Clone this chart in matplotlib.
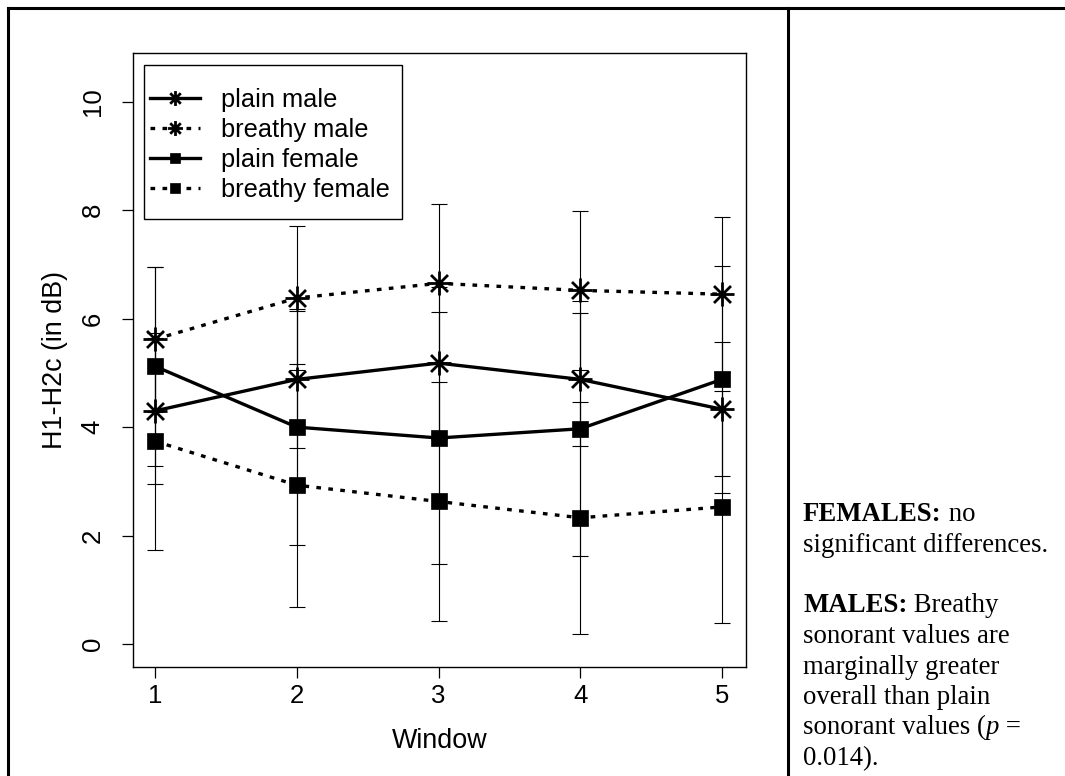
import matplotlib
matplotlib.use("Agg")
import matplotlib.pyplot as plt
from matplotlib.path import Path
from matplotlib.lines import Line2D
from matplotlib.patches import Rectangle

# window-by-window means and error-bar half widths
windows = [1, 2, 3, 4, 5]
plain_male = [4.30, 4.88, 5.18, 4.88, 4.33]
plain_male_err = [1.35, 1.26, 1.40, 1.23, 1.23]
breathy_male = [5.62, 6.38, 6.65, 6.52, 6.45]
breathy_male_err = [1.34, 1.32, 1.46, 1.47, 1.43]
plain_female = [5.12, 4.00, 3.80, 3.97, 4.88]
plain_female_err = [1.84, 2.18, 2.32, 2.35, 2.09]
breathy_female = [3.74, 2.93, 2.63, 2.33, 2.53]
breathy_female_err = [2.00, 2.24, 2.20, 2.14, 2.14]

y_ticks = [0, 2, 4, 6, 8, 10]

# (bold part, plain part) per line; |...| marks italic
note_lines = [
    ("FEMALES:", " no"),
    ("", "significant differences."),
    ("", ""),
    ("MALES:", " Breathy"),
    ("", "sonorant values are"),
    ("", "marginally greater"),
    ("", "overall than plain"),
    ("", "sonorant values (|p| ="),
    ("", "0.014)."),
]

plt.rcParams["font.family"] = ["Liberation Sans", "DejaVu Sans"]

W, H = 1065, 776
fig = plt.figure(figsize=(W / 100, H / 100), dpi=100)
ax = fig.add_axes([132.5 / W, 1 - 667 / H, (746 - 132.5) / W, (667 - 52.7) / H])

# R style pch=8 asterisk
asterisk = Path(
    [(-1, 0), (1, 0), (0, -1), (0, 1),
     (-0.7071, -0.7071), (0.7071, 0.7071), (-0.7071, 0.7071), (0.7071, -0.7071)],
    [Path.MOVETO, Path.LINETO] * 4,
)
dotted = (0, (1.4, 2.2))

series = [
    ("plain male", plain_male, plain_male_err, "-", asterisk),
    ("breathy male", breathy_male, breathy_male_err, dotted, asterisk),
    ("plain female", plain_female, plain_female_err, "-", "s"),
    ("breathy female", breathy_female, breathy_female_err, dotted, "s"),
]

handles = []
for label, vals, err, ls, mk in series:
    ax.errorbar(windows, vals, yerr=err, fmt="none", ecolor="black",
                elinewidth=0.8, capsize=6.1, capthick=0.8, zorder=2)
    if mk == "s":
        msize, mew = 12, 0.5
    else:
        msize, mew = 17.3, 2.0
    h, = ax.plot(windows, vals, linestyle=ls, color="black", lw=2.4,
                 marker=mk, markersize=msize, markeredgewidth=mew,
                 markerfacecolor="black", markeredgecolor="black",
                 dash_capstyle="butt", label=label, zorder=3)
    handles.append(h)

ax.set_xlim(0.84, 5.17)
ax.set_ylim(-0.42, 10.9)
ax.set_xticks(windows)
ax.set_yticks(y_ticks)
for s in ax.spines.values():
    s.set_linewidth(1.0)
ax.tick_params(axis="both", direction="out", length=7.9, width=0.9, labelsize=18.5)
ax.tick_params(axis="x", pad=4)
ax.tick_params(axis="y", labelrotation=90, pad=12)
for lbl in ax.get_yticklabels():
    lbl.set_va("center")

ax.set_xlabel("Window", fontsize=19.4)
ax.xaxis.set_label_coords(0.5, (667 - 741) / 614.3)
ax.xaxis.label.set_va("center")
ax.set_ylabel("H1-H2c (in dB)", fontsize=19.4)
ax.yaxis.set_label_coords((55 - 132.5) / 613.5, 0.5)
ax.yaxis.label.set_va("center")

ax.legend(handles=handles, loc="upper left", bbox_to_anchor=(150 / W, 1 - 87.5 / H),
          bbox_transform=fig.transFigure, frameon=False, borderpad=0,
          borderaxespad=0, handlelength=1.96, handletextpad=0.84,
          labelspacing=0.24, fontsize=18.3, markerscale=0.62)
fig.add_artist(Rectangle((144 / W, 1 - 219 / H), (402 - 144) / W, (219 - 65) / H,
                         transform=fig.transFigure, fill=False, lw=1.0, ec="black"))

# table-like frame around the figure and the note column
frame = dict(transform=fig.transFigure, color="black", lw=2.2, solid_capstyle="projecting")
fig.add_artist(Line2D([7.5 / W, 1.0], [1 - 7.5 / H, 1 - 7.5 / H], **frame))
fig.add_artist(Line2D([7.5 / W, 7.5 / W], [0, 1 - 7.5 / H], **frame))
fig.add_artist(Line2D([788 / W, 788 / W], [0, 1 - 7.5 / H], **frame))

# note text on the right
serif = dict(family="Liberation Serif", fontsize=19.3)
x0 = 803 / W
base0, step = 521, 30.5
for i, (bold, rest) in enumerate(note_lines):
    y = 1 - (base0 + i * step) / H
    if not bold:
        if not rest:
            continue
        prev = None
    else:
        prev = fig.text(x0, y, bold, weight="bold", va="baseline", ha="left", **serif)
    for j, part in enumerate(rest.split("|")):
        style = "italic" if j % 2 == 1 else "normal"
        if prev is None:
            prev = fig.text(x0, y, part, va="baseline", ha="left", style=style, **serif)
        else:
            prev = ax.annotate(part, xy=(1, 0), xycoords=prev, va="bottom", ha="left",
                               style=style, annotation_clip=False, **serif)

fig.savefig("out.png", dpi=100)
